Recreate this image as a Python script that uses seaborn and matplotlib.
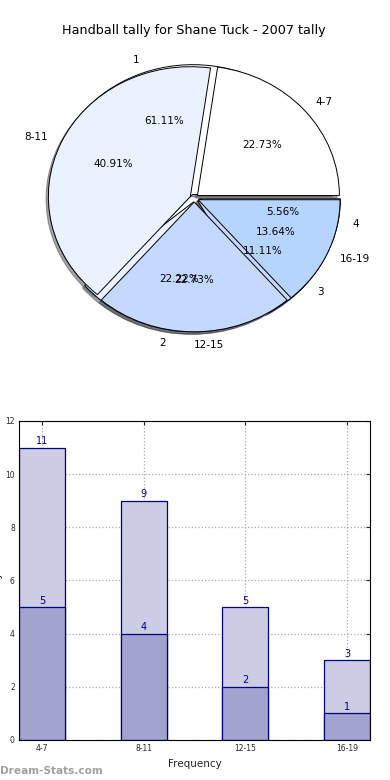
import numpy as np
import pandas as pd
import seaborn as sns
import matplotlib
import matplotlib.pyplot as plt

sns.set_style('white')
matplotlib.rcParams['font.family'] = ['DejaVu Sans']
matplotlib.rcParams['text.color'] = 'black'

# data
ranges = ['4-7', '8-11', '12-15', '16-19']
range_counts = [5, 9, 5, 3]
ranks = ['1', '2', '3', '4']
rank_counts = [11, 4, 2, 1]
total_tally = [11, 9, 5, 3]
game_tally = [5, 4, 2, 1]

pie_colors = ['#ffffff', '#eaf1ff', '#c5d8ff', '#b5d5ff']

fig = plt.figure(figsize=(3.9, 7.8), dpi=100)

### pie
ax1 = fig.add_axes([0.043, 0.538, 0.91, 0.416])
shadow = {'ox': -0.012, 'oy': -0.014}
ax1.pie(rank_counts, labels=ranks, colors=pie_colors, autopct='%.2f%%',
        explode=[0.03] * 4, shadow=shadow,
        wedgeprops={'edgecolor': 'black', 'linewidth': 0.7},
        textprops={'fontsize': 7.5, 'color': 'black'})
ax1.pie(range_counts, labels=ranges, colors=pie_colors, autopct='%.2f%%',
        explode=[0.03] * 4, shadow=shadow,
        wedgeprops={'edgecolor': 'black', 'linewidth': 0.7},
        textprops={'fontsize': 7.5, 'color': 'black'})
ax1.set_aspect('auto')
ax1.set_xlim(-1.25, 1.25)
ax1.set_ylim(-1.25, 1.25)

fig.text(0.497, 0.9615, 'Handball tally for Shane Tuck - 2007 tally',
         ha='center', va='center', fontsize=9.2)

### bars
ax2 = fig.add_axes([0.0487, 0.0513, 0.9, 0.409])
df = pd.DataFrame({'range': ranges, 'total': total_tally, 'game': game_tally})
sns.barplot(data=df, x='range', y='total', color='#ccccE4', saturation=1,
            width=0.45, edgecolor='#000080', linewidth=0.9, ax=ax2)
sns.barplot(data=df, x='range', y='game', color='#a3a3d0', saturation=1,
            width=0.45, edgecolor='#000080', linewidth=0.9, ax=ax2)
for c in ax2.containers:
    ax2.bar_label(c, color='#000080', fontsize=7, padding=1)

ax2.set_xlim(-0.225, 3.225)
ax2.set_ylim(0, 12)
ax2.set_yticks(range(0, 13, 2))
ax2.grid(True, linestyle=':', color='#aaaaaa', linewidth=0.9)
ax2.set_axisbelow(True)
ax2.tick_params(direction='in', length=3, labelsize=5.5, top=True, right=True, pad=3)
for s in ax2.spines.values():
    s.set_color('black')
    s.set_linewidth(0.8)
ax2.set_xlabel('Frequency', fontsize=7.5, labelpad=4)
ax2.set_ylabel('')
fig.text(-0.006, 0.235, 'Stats Tally', rotation=90, ha='center', va='center', fontsize=7)

fig.text(0.0, 0.012, 'Dream-Stats.com', color='#a0a0a0', fontsize=7.6,
         weight='bold', ha='left', va='center')

plt.savefig('out.png', dpi=100)
